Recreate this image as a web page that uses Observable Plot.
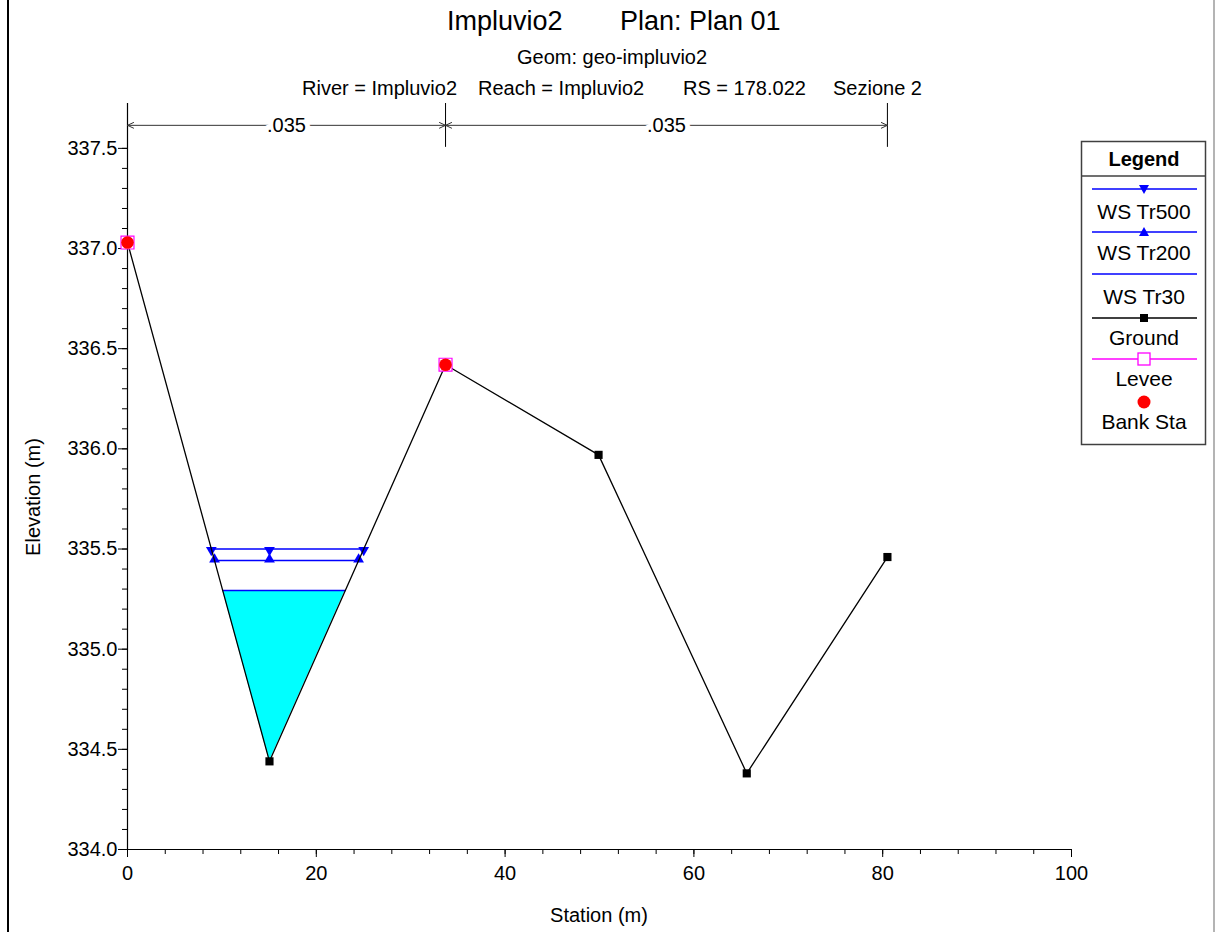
<!DOCTYPE html>
<html><head><meta charset="utf-8">
<script src="https://cdn.jsdelivr.net/npm/d3@7"></script>
<script src="https://cdn.jsdelivr.net/npm/@observablehq/plot@0.6"></script>
<style>
body{margin:0;background:#fff;font-family:"Liberation Sans",Arial,sans-serif;}
#wrap{position:relative;width:1216px;height:932px;overflow:hidden;background:#fff;}
#wrap svg.plot{position:absolute;left:0;top:0;}
.t{position:absolute;white-space:pre;color:#000;line-height:1;font-size:20px;}
#lborder{position:absolute;left:7px;top:0;width:2px;height:932px;background:#000;}
#rborder{position:absolute;left:1213px;top:0;width:2px;height:932px;background:#b4b4b4;}
</style></head><body><div id="wrap"><div id="lborder"></div><div id="rborder"></div></div>
<script>
// ---- data ----
const groundSta  = [0, 15.04, 33.69, 49.9, 65.6, 80.5];
const groundElev = [337.03, 334.44, 336.42, 335.97, 334.38, 335.46];
const bankSta  = [0, 33.69];
const bankElev = [337.03, 336.42];
const ws500Sta = [8.88, 15.04, 25.02];
const ws500Elev = 335.50;
const ws200Sta = [9.22, 15.04, 24.48];
const ws200Elev = 335.443;
const ws30Sta = [10.09, 15.04, 23.07];
const ws30Elev = 335.293;
const ws30Bed = [335.293, 334.44, 335.293];
const nBounds = [0, 33.69, 80.5];
const nValues = [".035", ".035"];
const xTicks = [0, 20, 40, 60, 80, 100];
const yTicks = [334.0, 334.5, 335.0, 335.5, 336.0, 336.5, 337.0, 337.5];
const legendNames = ["WS Tr500", "WS Tr200", "WS Tr30", "Ground", "Levee", "Bank Sta"];
const titleParts = ["Impluvio2", "Plan: Plan 01"];
const subTitle = "Geom: geo-impluvio2";
const infoParts = ["River = Impluvio2", "Reach = Impluvio2", "RS = 178.022", "Sezione 2"];

// ---- derived tables ----
const ground = groundSta.map((x, i) => ({x, y: groundElev[i]}));
const bank = bankSta.map((x, i) => ({x, y: bankElev[i]}));
const ws500 = ws500Sta.map(x => ({x, y: ws500Elev}));
const ws200 = ws200Sta.map(x => ({x, y: ws200Elev}));
const ws30 = ws30Sta.map((x, i) => ({x, y1: ws30Bed[i], y2: ws30Elev}));
const nMid = nValues.map((v, i) => ({x: (nBounds[i] + nBounds[i + 1]) / 2, a: nBounds[i], b: nBounds[i + 1], v}));
const nTop = 337.724, nArrowY = 337.615, nTickBottom = 337.505;
const xMinor = d3.range(0, 101, 4);
const yMinor = d3.range(3340, 3376, 1).map(d => d / 10);

const plot = Plot.plot({
  width: 1216, height: 932,
  marginLeft: 127, marginRight: 145, marginTop: 103, marginBottom: 83,
  style: {fontFamily: '"Liberation Sans", Arial, sans-serif', fontSize: "20px", background: "transparent", overflow: "visible"},
  x: {domain: [0, 100]},
  y: {domain: [334, nTop]},
  marks: [
    Plot.axisX({ticks: xMinor, tickSize: 5, text: null}),
    Plot.axisX({ticks: xTicks, tickSize: 8, tickPadding: 8, tickFormat: d => d, fontSize: 20, label: null}),
    Plot.axisY({ticks: yMinor, tickSize: 5, text: null}),
    Plot.axisY({ticks: yTicks, tickSize: 9, tickPadding: 1, tickFormat: d3.format(".1f"), fontSize: 20, label: null}),
    Plot.ruleX([0], {stroke: "#000", strokeWidth: 1.2}),
    Plot.ruleY([334], {stroke: "#000", strokeWidth: 1.2}),
    // Manning's n boundaries
    Plot.ruleX(nBounds.slice(1), {y1: nTickBottom, y2: nTop, stroke: "#000", strokeWidth: 1}),
    Plot.arrow(nMid, {x1: "x", x2: "a", y1: nArrowY, y2: nArrowY, stroke: "#333", strokeWidth: 1, headLength: 10, headAngle: 50}),
    Plot.arrow(nMid, {x1: "x", x2: "b", y1: nArrowY, y2: nArrowY, stroke: "#333", strokeWidth: 1, headLength: 10, headAngle: 50}),
    Plot.text(nMid, {x: "x", y: nArrowY, text: "v", fontSize: 20, fill: "#000", stroke: "white", strokeWidth: 10}),
    // water
    Plot.areaY(ws30, {x: "x", y1: "y1", y2: "y2", fill: "#00ffff", fillOpacity: 1}),
    Plot.line(ws30, {x: "x", y: "y2", stroke: "#0000ff", strokeWidth: 1.5}),
    Plot.line(ws200, {x: "x", y: "y", stroke: "#0000ff", strokeWidth: 1.5}),
    Plot.line(ws500, {x: "x", y: "y", stroke: "#0000ff", strokeWidth: 1.5}),
    Plot.dot(ws200, {x: "x", y: "y", symbol: "triangle", r: 4, fill: "#0000ff", dy: -1}),
    Plot.dot(ws500, {x: "x", y: "y", symbol: "triangle", rotate: 180, r: 4, fill: "#0000ff", dy: 1}),
    // ground
    Plot.line(ground, {x: "x", y: "y", stroke: "#000", strokeWidth: 1.3}),
    Plot.dot(ground, {x: "x", y: "y", symbol: "square", r: 4.6, fill: "#000"}),
    // levee + bank stations
    Plot.dot(bank, {x: "x", y: "y", symbol: "square", r: 7.3, fill: "white", stroke: "#ff00ff", strokeWidth: 1.2}),
    Plot.dot(bank, {x: "x", y: "y", r: 6.3, fill: "#ff0000"})
  ]
});
plot.classList.add("plot");
const wrap = document.getElementById("wrap");
wrap.appendChild(plot);

function addText(str, left, top, size, extra) {
  const d = document.createElement("div");
  d.className = "t";
  d.textContent = str;
  d.style.left = left + "px";
  d.style.top = top + "px";
  d.style.fontSize = size + "px";
  if (extra) Object.assign(d.style, extra);
  wrap.appendChild(d);
  return d;
}
addText(titleParts[0], 447, 8, 27);
addText(titleParts[1], 620, 8, 27);
addText(subTitle, 517, 47, 20);
[302, 478, 683, 833].forEach((l, i) => addText(infoParts[i], l, 78, 20));
addText("Station (m)", 0, 905, 20, {width: "1198px", textAlign: "center"});
addText("Elevation (m)", 33 - 100, 497 - 10, 20, {width: "200px", textAlign: "center", transform: "rotate(-90deg)", transformOrigin: "100px 10px"});

// legend
const L = d3.create("svg").attr("width", 128).attr("height", 306)
  .style("position", "absolute").style("left", "1080px").style("top", "140px").style("overflow", "visible");
L.append("rect").attr("x", 1.5).attr("y", 1.5).attr("width", 124).attr("height", 303).attr("fill", "white").attr("stroke", "#404040").attr("stroke-width", 1.5);
L.append("line").attr("x1", 1.5).attr("x2", 125.5).attr("y1", 36).attr("y2", 36).attr("stroke", "#404040").attr("stroke-width", 1.5);
const fam = '"Liberation Sans", Arial, sans-serif';
L.append("text").attr("x", 64).attr("y", 26).attr("text-anchor", "middle").attr("font-family", fam).attr("font-size", 20).attr("font-weight", "bold").text("Legend");
const lineY = [49, 92, 134, 178, 219, 262];
const textY = [79, 120, 164, 205, 246, 289];
const cx = 64;
legendNames.forEach((name, i) => {
  const g = L.append("g");
  const ly = lineY[i];
  if (i < 5) {
    const col = i < 3 ? "#0000ff" : (i === 3 ? "#000" : "#ff00ff");
    g.append("line").attr("x1", 12).attr("x2", 117).attr("y1", ly).attr("y2", ly).attr("stroke", col).attr("stroke-width", 1.3);
  }
  if (i === 0) g.append("path").attr("d", `M${cx-5},${ly-4}L${cx+5},${ly-4}L${cx},${ly+5}Z`).attr("fill", "#0000ff");
  if (i === 1) g.append("path").attr("d", `M${cx-5},${ly+4}L${cx+5},${ly+4}L${cx},${ly-5}Z`).attr("fill", "#0000ff");
  if (i === 3) g.append("rect").attr("x", cx - 4).attr("y", ly - 4).attr("width", 8).attr("height", 8).attr("fill", "#000");
  if (i === 4) g.append("rect").attr("x", cx - 6).attr("y", ly - 6).attr("width", 12).attr("height", 12).attr("fill", "white").attr("stroke", "#ff00ff").attr("stroke-width", 1.3);
  if (i === 5) g.append("circle").attr("cx", cx).attr("cy", ly).attr("r", 6.5).attr("fill", "#ff0000");
  g.append("text").attr("x", cx).attr("y", textY[i]).attr("text-anchor", "middle").attr("font-family", fam).attr("font-size", 21).text(name);
});
wrap.appendChild(L.node());
</script></body></html>
